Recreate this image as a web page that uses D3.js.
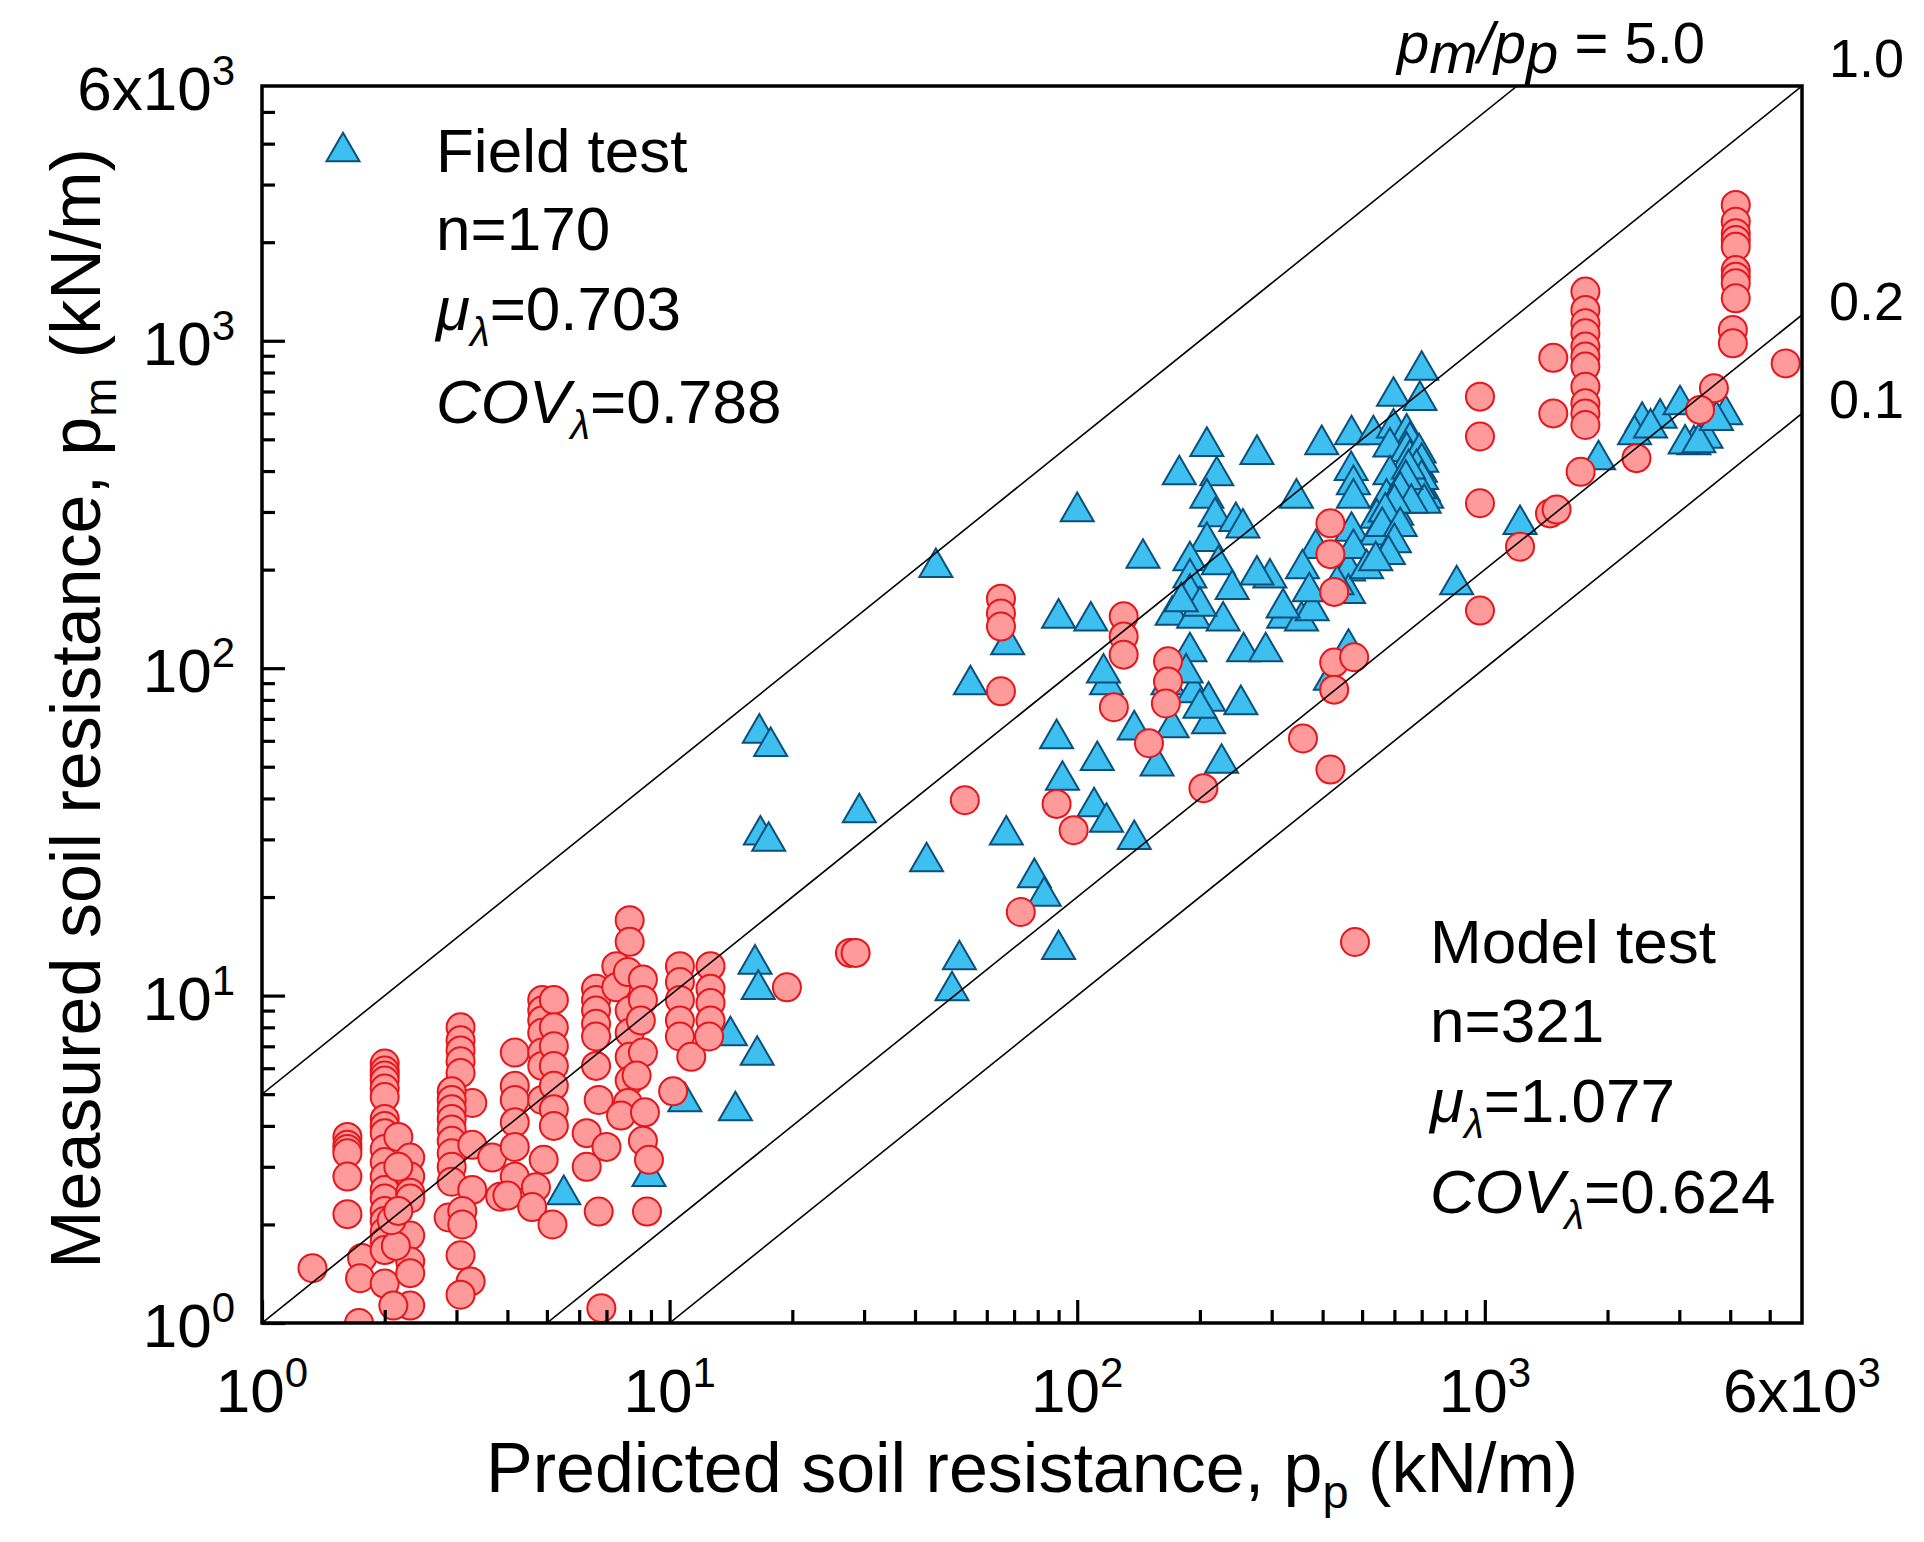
<!DOCTYPE html>
<html><head><meta charset="utf-8">
<script src="https://cdn.jsdelivr.net/npm/d3@7"></script>
<style>
body{margin:0;background:#fff}
svg{display:block}
text{font-family:"Liberation Sans",Arial,Helvetica,sans-serif;fill:#000}
</style>
</head><body>
<svg id="chart" width="1924" height="1542"></svg>
<script>
// ---------------- DATA ----------------
// Field test: [predicted p_p, measured p_m] (kN/m)
const fieldTest = [
[16.6,65.5],[17.7,59.6],[16.7,32],[17.5,30.6],[29.2,37.4],[16.2,12.9],[16.5,10.8],[14.1,7.8],[16.4,6.8],[14.5,4.6],[5.5,2.55],[8.9,2.9],[10.9,4.9],
[42.7,26.5],[51.4,13.3],[49.3,10.7],[78.5,23.7],[83,20.8],[90,14.3],
[45,210],[100,311],[145,224],[208,492],[178,403],[220,400],[208,342],[218,300],[245,290],[208,252],[189,220],[222,214],[189,195],[240,180],[189,175],[171,150],[193,147],[228,144],[189,116],[256,116],[290,116],[321,147],[355,144],[463,119],[418,95],[67.5,122],[54.7,92],[118,92],[116,100],[167,92],[193,87],[210,82],[252,80],[89,63],[112,54],[138,67],[171,68],[210,70],[157,52],[226,53],[92,47],[110,39],[118,35],[67,32],[90,147],[108,144],[138,31],[185,100],[200,78],[200,160],[180,165],
[463,205],[463,175],[377,155],[385,240],
[700,840],[597,700],[693,680],[471,534],[533,534],[398,498],[276,465],[597,560],[643,540],[655,510],[585,490],[643,475],[470,415],[476,376],[476,342],[655,450],[695,410],[585,403],[655,376],[707,359],[574,342],[720,342],[608,303],[543,297],[345,342],[255,277],[471,271],[543,264],[476,240],[513,208],[357,208],[297,195],[276,199],[1220,284],[853,186],[371,177],[320,158],[434,186],
[690,470],[700,440],[680,420],[700,390],[690,365],[710,330],[650,420],[640,390],[620,360],[660,330],[600,330],[570,310],[560,280],[620,280],[600,250],[580,230],[540,220],
[1901,448],[2432,587],[2692,600],[3012,659],[3898,615],[3258,498],[3488,521],[2330,534],[3100,500],[3350,505],[2550,560],[3700,590]
];
// Model test: [predicted p_p, measured p_m] (kN/m)
const modelTest = [
[1.33,1.47],
[1.62,3.7],[1.62,3.5],[1.62,3.4],[1.62,3.3],[1.62,2.8],[1.62,2.15],
[1.76,1.58],[1.74,1.37],[1.73,1.0],
[2.0,6.2],[2.0,5.9],[2.0,5.7],[2.0,5.5],[2.0,5.2],[2.0,4.9],[2.0,4.2],[2.0,4.0],[2.0,3.8],[2.0,3.4],[2.0,3.1],[2.0,2.8],[2.0,2.55],[2.0,2.4],[2.0,2.2],[2.0,2.05],[2.0,1.9],[2.0,1.78],[2.0,1.67],[2.0,1.32],
[2.16,3.7],[2.31,3.2],[2.31,2.8],[2.31,2.5],[2.31,2.4],[2.31,1.85],[2.31,1.54],[2.31,1.42],[2.31,1.13],[2.1,1.13],[2.13,1.72],[2.08,2.06],[2.16,3.0],[2.16,2.2],
[3.07,8.0],[3.07,7.3],[3.07,6.8],[3.07,6.3],[3.07,5.8],[3.28,4.7],[2.92,5.1],[2.92,4.8],[2.92,4.5],[2.92,4.2],[2.92,3.9],[2.92,3.6],[2.92,3.3],[2.92,3.0],[2.92,2.7],[3.28,3.5],[3.28,2.55],[2.87,2.1],[3.1,2.2],[3.1,2.0],[3.07,1.61],[3.25,1.34],[3.07,1.22],
[3.67,3.2],[3.84,2.43],[4.17,6.7],[4.17,5.3],[4.17,4.8],[4.17,4.1],[4.17,3.45],[4.17,2.8],[4.0,2.45],
[4.87,9.7],[4.87,9.0],[4.87,8.4],[4.87,7.7],[4.87,6.7],[4.87,6.1],[4.87,4.8],[5.2,9.7],[5.2,8.0],[5.2,7.0],[5.2,6.1],[5.2,5.3],[5.2,4.5],[5.2,4.0],[4.91,3.15],[4.7,2.6],[4.6,2.26],[5.16,2.0],
[6.6,10.5],[6.6,9.7],[6.6,9.0],[6.6,8.2],[6.6,7.5],[6.6,6.1],[6.7,4.8],[6.26,3.8],[6.26,3.0],[7.0,3.45],[6.7,2.19],[6.8,1.11],
[7.98,17.0],[7.98,14.6],[7.4,12.3],[7.4,10.6],[7.9,11.8],[7.98,9.0],[7.98,7.7],[7.98,6.5],[7.98,5.5],[7.9,4.7],[7.6,4.3],[8.6,11.2],[8.6,9.7],[8.5,8.4],[8.6,6.7],[8.3,5.7],[8.6,3.6],[8.9,3.15],[8.8,2.19],[8.7,4.4],
[10.6,12.3],[10.6,11.0],[10.6,9.7],[10.6,8.4],[10.6,7.5],[10.2,5.1],[11.3,6.5],
[12.6,12.3],[12.6,10.5],[12.6,9.5],[12.6,8.4],[12.5,7.5],
[19.4,10.6],[27.7,13.5],[28.6,13.5],[72.7,18],
[65,163],[65,147],[65,134],[65,85],[53,39.5],[89,38.5],[98,32],
[130,144],[130,125],[130,110],[123,76],[167,105],[167,91],[165,78],[150,59],[204,43],
[418,277],[418,223],[427,171],[427,104],[478,108],[427,86],[358,61],[418,49],
[973,675],[973,510],[973,319],[973,150],[1472,887],[1472,600],[1445,297],[1500,305],[1220,235],
[4127,2600],[4127,2311],[4127,2130],[4127,2032],[4127,1937],[4127,1644],[4127,1570],[4127,1499],[4127,1348],[4060,1079],[4060,982],
[1765,1413],[1765,1242],[1765,1131],[1765,1054],[1765,960],[1765,895],[1765,834],[1765,724],[1765,644],[1765,600],[1765,553],
[1718,398],[5470,853],[3648,716],[3373,615],[2355,438]
];
// axis ticks
const tickValues = [1,10,100,1000,6000];
const tickBase = ["10","10","10","10","6x10"];
const tickExp = ["0","1","2","3","3"];
// ratio lines p_m/p_p
const ratioValues = [5.0,1.0,0.2,0.1];
const ratioLabels = ["5.0","1.0","0.2","0.1"];
// legend texts
const fieldLegend = ["Field test","n=170","=0.703","=0.788"];
const modelLegend = ["Model test","n=321","=1.077","=0.624"];

// ---------------- DRAW ----------------
const svg = d3.select("#chart");
svg.append("rect").attr("width",1924).attr("height",1542).attr("fill","#fff");

const P = {left:262,right:1802,top:86,bottom:1323};
const x = d3.scaleLog().domain([1,6000]).range([P.left,P.right]);
const y = d3.scaleLog().domain([1,6000]).range([P.bottom,P.top]);

const triFill="#3dbff0", triStroke="#0b4f7c", cirFill="#ff9a9a", cirStroke="#e5161c";
const triSide=33;
function triPath(s){const h=s*Math.sqrt(3)/2;return `M0,${-h/2}L${s/2},${h/2}L${-s/2},${h/2}Z`;}

svg.append("defs").append("clipPath").attr("id","plotclip")
  .append("rect").attr("x",P.left).attr("y",P.top).attr("width",P.right-P.left).attr("height",P.bottom-P.top);

const plot = svg.append("g").attr("clip-path","url(#plotclip)");

plot.append("g").selectAll("path").data(fieldTest).join("path")
  .attr("d",triPath(triSide))
  .attr("transform",d=>`translate(${x(d[0])},${y(d[1])})`)
  .attr("fill",triFill).attr("stroke",triStroke).attr("stroke-width",2);

plot.append("g").selectAll("circle").data(modelTest).join("circle")
  .attr("cx",d=>x(d[0])).attr("cy",d=>y(d[1])).attr("r",14)
  .attr("fill",cirFill).attr("stroke",cirStroke).attr("stroke-width",2);

// ratio lines
const [dmin,dmax] = x.domain();
plot.append("g").selectAll("line").data(ratioValues).join("line")
  .attr("x1",r=>x(Math.max(dmin,dmin/r))).attr("y1",r=>y(Math.max(dmin,dmin/r)*r))
  .attr("x2",r=>x(Math.min(dmax,dmax/r))).attr("y2",r=>y(Math.min(dmax,dmax/r)*r))
  .attr("stroke","#000").attr("stroke-width",1.6);

// ticks
const minor=[];
[1,10,100,1000].forEach(d=>{for(let k=2;k<=9;k++){const v=k*d;if(v<6000)minor.push(v);}});
const majorT=[1,10,100,1000];
function styleAxis(g){g.select(".domain").remove();g.selectAll("line").attr("stroke","#000").attr("stroke-width",3.2);}
svg.append("g").attr("transform",`translate(0,${P.bottom})`)
  .call(d3.axisBottom(x).tickValues(minor).tickSize(-13).tickFormat(""))
  .call(styleAxis);
svg.append("g").attr("transform",`translate(0,${P.bottom})`)
  .call(d3.axisBottom(x).tickValues(majorT).tickSize(-23).tickFormat(""))
  .call(styleAxis);
svg.append("g").attr("transform",`translate(${P.left},0)`)
  .call(d3.axisLeft(y).tickValues(minor).tickSize(-13).tickFormat(""))
  .call(styleAxis);
svg.append("g").attr("transform",`translate(${P.left},0)`)
  .call(d3.axisLeft(y).tickValues(majorT).tickSize(-23).tickFormat(""))
  .call(styleAxis);

// frame
svg.append("rect").attr("x",P.left).attr("y",P.top).attr("width",P.right-P.left).attr("height",P.bottom-P.top)
  .attr("fill","none").attr("stroke","#000").attr("stroke-width",3.5);

// rich text helper
function rich(parent,xp,yp,parts,size,anchor){
  const t=parent.append("text").attr("x",xp).attr("y",yp).attr("font-size",size).attr("text-anchor",anchor||"start");
  let shift=0;
  parts.forEach(p=>{
    const ts=t.append("tspan").text(p.t);
    const target=p.dy||0;
    if(target-shift!==0) ts.attr("dy",target-shift);
    shift=target;
    if(p.size) ts.attr("font-size",p.size);
    if(p.it) ts.attr("font-style","italic");
  });
  return t;
}

// tick labels
tickValues.forEach((v,i)=>{
  rich(svg,x(v),P.bottom+89,[{t:tickBase[i]},{t:tickExp[i],size:42,dy:-25}],62,"middle");
  rich(svg,235,y(v)+24,[{t:tickBase[i]},{t:tickExp[i],size:42,dy:-25}],62,"end");
});

// axis titles
rich(svg,(P.left+P.right)/2,1492,[{t:"Predicted soil resistance, p"},{t:"p",size:47,dy:16},{t:" (kN/m)"}],70,"middle");
const yt=svg.append("g").attr("transform",`translate(100,${(P.top+P.bottom)/2+4}) rotate(-90)`);
rich(yt,0,0,[{t:"Measured soil resistance, p"},{t:"m",size:47,dy:16},{t:" (kN/m)"}],70,"middle");

// ratio labels
rich(svg,x(dmax/ratioValues[0])-120,63,[{t:"p",it:1},{t:"m",it:1,dy:10},{t:"/",it:1},{t:"p",it:1},{t:"p",it:1,dy:10},{t:" = "+ratioLabels[0]}],58,"start");
ratioValues.slice(1).forEach((r,i)=>{
  const yEnd=y(Math.min(dmax,dmax*r));
  const yy = r>=1 ? yEnd-9 : yEnd+5;
  svg.append("text").attr("x",1829).attr("y",yy).attr("font-size",54).text(ratioLabels[i+1]);
});

// legends
svg.append("path").attr("d",triPath(triSide)).attr("transform","translate(343,147)")
  .attr("fill",triFill).attr("stroke",triStroke).attr("stroke-width",2);
const fx=436, fy=[172,250,330,423];
rich(svg,fx,fy[0],[{t:fieldLegend[0]}],62);
rich(svg,fx,fy[1],[{t:fieldLegend[1]}],62);
rich(svg,fx,fy[2],[{t:"μ",it:1},{t:"λ",it:1,size:40,dy:16},{t:fieldLegend[2]}],62);
rich(svg,fx,fy[3],[{t:"COV",it:1},{t:"λ",it:1,size:40,dy:16},{t:fieldLegend[3]}],62);

svg.append("circle").attr("cx",1355).attr("cy",942).attr("r",14)
  .attr("fill",cirFill).attr("stroke",cirStroke).attr("stroke-width",2);
const mx=1430, my=[963,1042,1122,1213];
rich(svg,mx,my[0],[{t:modelLegend[0]}],62);
rich(svg,mx,my[1],[{t:modelLegend[1]}],62);
rich(svg,mx,my[2],[{t:"μ",it:1},{t:"λ",it:1,size:40,dy:16},{t:modelLegend[2]}],62);
rich(svg,mx,my[3],[{t:"COV",it:1},{t:"λ",it:1,size:40,dy:16},{t:modelLegend[3]}],62);
</script>
</body></html>
